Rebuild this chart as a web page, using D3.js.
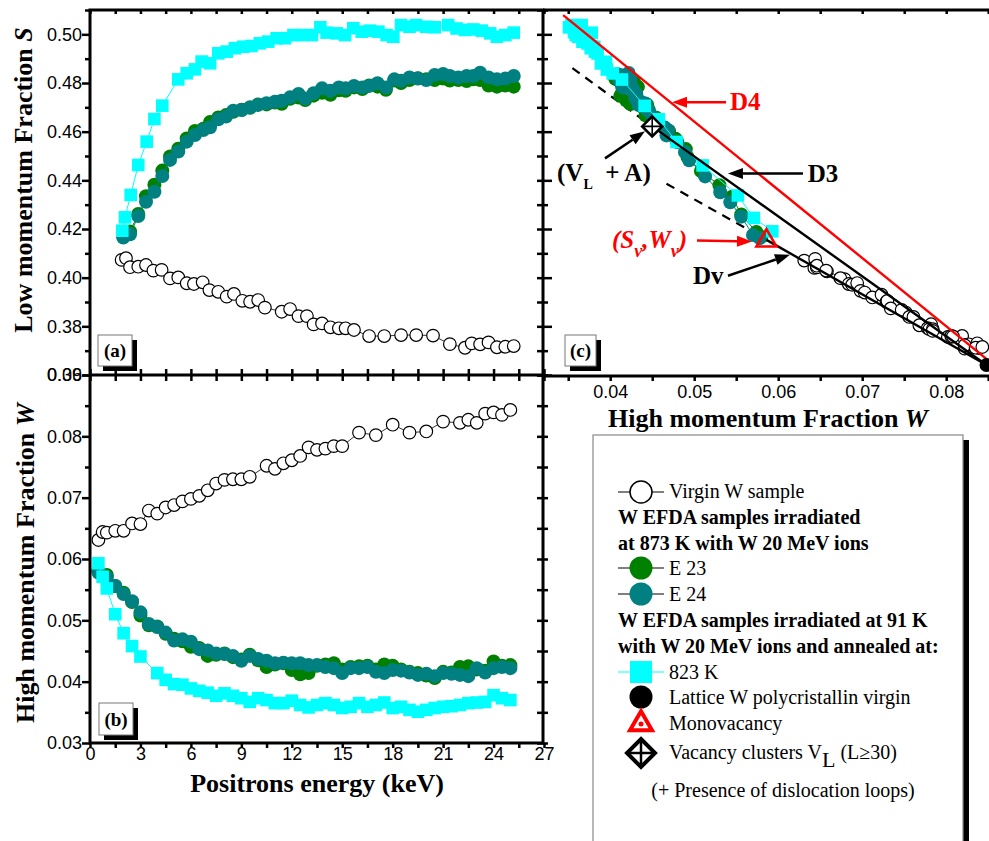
<!DOCTYPE html>
<html><head><meta charset="utf-8">
<script src="https://cdn.jsdelivr.net/npm/d3@7"></script>
<style>body{margin:0;background:#fff}svg{display:block}</style></head>
<body><svg id="chart" width="989" height="841"></svg>
<script>
// ---------------- DATA ----------------
// Panel (a): low momentum fraction S vs positron energy
const virginES = [1.88,2.14,2.38,2.87,3.33,3.77,4.26,4.76,5.25,5.75,6.18,6.7,7.1,7.63,8.13,8.56,9.06,9.52,10.0,10.4,11.4,11.9,12.4,12.9,13.3,13.8,14.3,14.8,15.2,15.7,16.6,17.5,18.5,19.4,20.4,21.4,22.3,22.7,23.2,23.7,24.2,24.7,25.2];
const virginS  = [0.4073,0.4080,0.4043,0.4045,0.4052,0.4029,0.4032,0.3997,0.4001,0.3977,0.3974,0.3981,0.3949,0.3942,0.3922,0.3933,0.3905,0.3901,0.3908,0.3877,0.3860,0.3871,0.3842,0.3842,0.3808,0.3812,0.3796,0.3792,0.3792,0.3785,0.3760,0.3760,0.3764,0.3764,0.3762,0.3727,0.3712,0.3730,0.3726,0.3734,0.3714,0.3716,0.3719];
const e2xES = [1.98,2.38,2.87,3.33,3.83,4.3,4.76,5.25,5.75,6.24,6.74,7.14,7.63,8.09,8.52,9.02,9.52,10.0,10.5,11.0,11.4,11.9,12.4,12.8,13.3,13.8,14.3,14.8,15.2,15.7,16.2,16.6,17.1,17.6,18.1,18.5,19.0,19.5,20.0,20.5,21.0,21.4,21.9,22.4,22.8,23.2,23.7,24.2,24.7,25.2];
const e23S = [0.4170,0.4190,0.4262,0.4335,0.4382,0.4440,0.4498,0.4530,0.4572,0.4603,0.4612,0.4640,0.4658,0.4668,0.4682,0.4690,0.4698,0.4712,0.4712,0.4720,0.4715,0.4735,0.4740,0.4730,0.4748,0.4760,0.4752,0.4770,0.4768,0.4782,0.4775,0.4790,0.4785,0.4772,0.4810,0.4800,0.4812,0.4820,0.4815,0.4812,0.4818,0.4810,0.4812,0.4808,0.4815,0.4812,0.4790,0.4785,0.4790,0.4785];
const e24S = [0.4165,0.4178,0.4253,0.4312,0.4353,0.4418,0.4484,0.4518,0.4559,0.4586,0.4607,0.4618,0.4651,0.4662,0.4686,0.4689,0.4700,0.4710,0.4717,0.4723,0.4727,0.4741,0.4755,0.4736,0.4758,0.4778,0.4768,0.4782,0.4778,0.4788,0.4782,0.4788,0.4799,0.4782,0.4815,0.4809,0.4823,0.4818,0.4812,0.4833,0.4837,0.4829,0.4823,0.4829,0.4829,0.4842,0.4823,0.4815,0.4818,0.4829];
const k823ES = [1.92,2.08,2.42,2.87,3.37,3.83,4.3,5.25,5.75,6.24,6.64,7.14,7.63,8.13,8.62,9.12,9.6,10.1,10.6,11.1,11.6,12.1,12.6,13.2,13.7,14.07,14.67,15.17,15.66,16.16,16.65,17.15,17.64,18.04,18.5,19.0,19.4,20.0,20.5,21.3,21.8,22.3,22.8,23.3,23.8,24.2,24.7,25.2];
const k823S  = [0.4193,0.4248,0.4340,0.4463,0.4559,0.4652,0.4707,0.4815,0.4840,0.4856,0.4888,0.4881,0.4922,0.4929,0.4943,0.4949,0.4952,0.4963,0.4970,0.4984,0.4984,0.4997,0.4997,0.4997,0.5029,0.5007,0.5004,0.4997,0.5025,0.5011,0.5015,0.5011,0.4997,0.4990,0.5038,0.5031,0.5038,0.5031,0.5029,0.5038,0.5024,0.5018,0.5020,0.5015,0.5004,0.4990,0.4997,0.5007];

// Panel (b): high momentum fraction W vs positron energy
const virginEW = [0.5,0.75,1.0,1.5,2.0,2.5,3.0,3.5,4.0,4.5,5.0,5.5,6.0,6.5,7.0,7.5,8.0,8.5,9.0,9.5,10.5,11.0,11.5,12.0,12.5,13.0,13.5,14.0,14.5,15.0,16.0,17.0,18.0,19.0,20.0,21.0,22.0,22.5,23.0,23.5,24.0,24.5,25.0];
const virginW  = [0.0631,0.0644,0.0643,0.0646,0.0646,0.0658,0.0657,0.0679,0.0674,0.0684,0.0688,0.0694,0.0698,0.0703,0.0712,0.0723,0.0729,0.0730,0.0730,0.0734,0.0752,0.0747,0.0756,0.0761,0.0768,0.0782,0.0778,0.0780,0.0784,0.0784,0.0806,0.0802,0.0819,0.0806,0.0808,0.0824,0.0822,0.0827,0.0822,0.0837,0.0839,0.0835,0.0843];
const e2xEW = [0.5,1.0,1.5,2.0,2.5,3.0,3.5,4.0,4.5,5.0,5.5,6.0,6.5,7.0,7.5,8.0,8.5,9.0,9.5,10.0,10.5,11.0,11.5,12.0,12.5,13.0,13.5,14.0,14.5,15.0,15.5,16.0,16.5,17.0,17.5,18.0,18.5,19.0,19.5,20.0,20.5,21.0,21.5,22.0,22.5,23.0,23.5,24.0,24.5,25.0];
const e23W = [0.0580,0.0574,0.0556,0.0545,0.0530,0.0508,0.0492,0.0490,0.0478,0.0470,0.0466,0.0457,0.0455,0.0442,0.0444,0.0446,0.0440,0.0436,0.0444,0.0435,0.0424,0.0428,0.0430,0.0419,0.0412,0.0414,0.0426,0.0428,0.0430,0.0420,0.0424,0.0425,0.0426,0.0420,0.0428,0.0426,0.0420,0.0416,0.0414,0.0410,0.0406,0.0416,0.0415,0.0424,0.0425,0.0420,0.0418,0.0433,0.0426,0.0427];
const e24W = [0.0578,0.0570,0.0556,0.0543,0.0531,0.0513,0.0494,0.0489,0.0480,0.0467,0.0469,0.0465,0.0453,0.0451,0.0446,0.0445,0.0442,0.0434,0.0442,0.0437,0.0434,0.0430,0.0431,0.0430,0.0430,0.0427,0.0427,0.0424,0.0422,0.0414,0.0422,0.0422,0.0424,0.0416,0.0414,0.0419,0.0418,0.0415,0.0411,0.0413,0.0409,0.0414,0.0413,0.0411,0.0409,0.0422,0.0415,0.0422,0.0424,0.0422];
const k823EW = [0.5,0.75,1.0,1.5,2.0,2.5,3.0,4.0,4.5,5.0,5.5,6.0,6.5,7.0,7.5,8.0,8.5,9.0,9.5,10.0,10.5,11.0,11.5,12.0,12.5,13.0,13.5,14.0,14.5,15.0,15.5,16.0,16.5,17.0,17.5,18.0,18.5,19.0,19.5,20.0,20.5,21.0,21.5,22.0,22.5,23.0,23.5,24.0,24.5,25.0];
const k823W  = [0.0593,0.0571,0.0552,0.0510,0.0479,0.0458,0.0441,0.0414,0.0403,0.0396,0.0395,0.0389,0.0385,0.0382,0.0377,0.0381,0.0377,0.0373,0.0367,0.0373,0.0370,0.0365,0.0365,0.0369,0.0362,0.0358,0.0362,0.0365,0.0362,0.0357,0.0359,0.0365,0.0359,0.0362,0.0366,0.0357,0.0359,0.0354,0.0351,0.0354,0.0357,0.0359,0.0360,0.0362,0.0365,0.0366,0.0367,0.0378,0.0373,0.0370];

// Panel (c): reference states (W, S)
const latticePt  = [0.0848, 0.3645];   // Lattice W polycristallin virgin
const monoVacPt  = [0.0586, 0.4158];   // Monovacancy (Sv, Wv)
const vacClustPt = [0.0450, 0.4623];   // Vacancy clusters VL
const lineD4     = [[0.0344, 0.5079], [0.0858, 0.3642]];
const dashD3Start = [0.0355, 0.4862];
const dashDvStart = [0.0467, 0.4388];

// Tick values
const energyTicks = [0,3,6,9,12,15,18,21,24,27];
const energyMinor = [1.5,4.5,7.5,10.5,13.5,16.5,19.5,22.5,25.5];
const sTicks = [0.36,0.38,0.40,0.42,0.44,0.46,0.48,0.50];
const sMinor = [0.37,0.39,0.41,0.43,0.45,0.47,0.49,0.51];
const wTicks = [0.03,0.04,0.05,0.06,0.07,0.08,0.09];
const wMinor = [0.035,0.045,0.055,0.065,0.075,0.085];
const wcTicks = [0.04,0.05,0.06,0.07,0.08];
const wcMinor = [0.035,0.045,0.055,0.065,0.075,0.085];

// ---------------- SETUP ----------------
const SERIF = '"Liberation Serif","Times New Roman",serif';
const SANS = '"Liberation Sans",Arial,sans-serif';
const svg = d3.select('#chart');

const A = {l:90, r:543, t:10, b:375};
const B = {l:90, r:543, t:375, b:743};
const C = {l:543, r:1005, t:10, b:376};

const xE = d3.scaleLinear().domain([0,27]).range([90,544]);
const yS = d3.scaleLinear().domain([0.36,0.51]).range([A.b, A.t]);
const yW = d3.scaleLinear().domain([0.03,0.09]).range([B.b, B.t]);
const xW = d3.scaleLinear().domain([0.032,0.087]).range([C.l, C.l + 0.055*8400]);
const ySc = d3.scaleLinear().domain([0.36,0.51]).range([C.b, C.t]);

const COL = {virgin:'#000', e23:'#008000', e24:'#008080', k823:'#00ffff'};

const defs = svg.append('defs');
[['clipA',A],['clipB',B],['clipC',C]].forEach(([id,p])=>{
  defs.append('clipPath').attr('id',id).append('rect')
    .attr('x',p.l).attr('y',p.t).attr('width',p.r-p.l).attr('height',p.b-p.t);
});

function zip(xs, ys){ const n=Math.min(xs.length, ys.length); const o=[]; for(let i=0;i<n;i++) o.push([xs[i],ys[i]]); return o; }

function drawSeries(g, pts, xs, ys, kind, color, size, lineColor, lineW){
  const line = d3.line().x(d=>xs(d[0])).y(d=>ys(d[1]));
  g.append('path').attr('d', line(pts)).attr('fill','none')
    .attr('stroke', lineColor).attr('stroke-width', lineW);
  if(kind==='circle'){
    g.selectAll(null).data(pts).join('circle')
      .attr('cx',d=>xs(d[0])).attr('cy',d=>ys(d[1])).attr('r',size)
      .attr('fill',color==='#000'?'#fff':color)
      .attr('stroke',color==='#000'?'#000':'none').attr('stroke-width',1.2);
  } else {
    g.selectAll(null).data(pts).join('rect')
      .attr('x',d=>xs(d[0])-size).attr('y',d=>ys(d[1])-size)
      .attr('width',2*size).attr('height',2*size).attr('fill',color);
  }
}

// ---------------- PANEL A ----------------
const gA = svg.append('g').attr('clip-path','url(#clipA)');
drawSeries(gA, zip(virginES, virginS), xE, yS, 'circle', COL.virgin, 6.3, '#000', 0.8);
drawSeries(gA, zip(e2xES, e23S), xE, yS, 'circle', COL.e23, 7, COL.e23, 1);
drawSeries(gA, zip(e2xES, e24S), xE, yS, 'circle', COL.e24, 7, COL.e24, 1);
drawSeries(gA, zip(k823ES, k823S), xE, yS, 'square', COL.k823, 6.3, COL.k823, 1);

// ---------------- PANEL B ----------------
const gB = svg.append('g').attr('clip-path','url(#clipB)');
drawSeries(gB, zip(virginEW, virginW), xE, yW, 'circle', COL.virgin, 6.3, '#000', 0.8);
drawSeries(gB, zip(e2xEW, e23W), xE, yW, 'circle', COL.e23, 7, COL.e23, 1);
drawSeries(gB, zip(e2xEW, e24W), xE, yW, 'circle', COL.e24, 7, COL.e24, 1);
drawSeries(gB, zip(k823EW, k823W), xE, yW, 'square', COL.k823, 6.3, COL.k823, 1);

// ---------------- PANEL C ----------------
const gC = svg.append('g').attr('clip-path','url(#clipC)');
const lineC = d3.line().x(d=>xW(d[0])).y(d=>ySc(d[1]));
// dashed extensions
gC.append('path').attr('d', lineC([dashD3Start, vacClustPt])).attr('stroke','#000')
  .attr('stroke-width',2.2).attr('stroke-dasharray','9,7').attr('fill','none');
gC.append('path').attr('d', lineC([dashDvStart, monoVacPt])).attr('stroke','#000')
  .attr('stroke-width',2.2).attr('stroke-dasharray','9,7').attr('fill','none');
drawSeries(gC, zip(virginW, virginS), xW, ySc, 'circle', COL.virgin, 6.3, '#000', 0.8);
drawSeries(gC, zip(e23W, e23S), xW, ySc, 'circle', COL.e23, 7, COL.e23, 1);
drawSeries(gC, zip(e24W, e24S), xW, ySc, 'circle', COL.e24, 7, COL.e24, 1);
drawSeries(gC, zip(k823W, k823S), xW, ySc, 'square', COL.k823, 6.3, COL.k823, 1);
// solid lines
gC.append('path').attr('d', lineC(lineD4)).attr('stroke','#ff0000').attr('stroke-width',2.4).attr('fill','none');
gC.append('path').attr('d', lineC([vacClustPt, latticePt])).attr('stroke','#000').attr('stroke-width',2.4).attr('fill','none');
gC.append('path').attr('d', lineC([monoVacPt, latticePt])).attr('stroke','#000').attr('stroke-width',2.4).attr('fill','none');
// reference points
gC.append('circle').attr('cx',xW(latticePt[0])).attr('cy',ySc(latticePt[1])).attr('r',7).attr('fill','#000');

function triangle(g, cx, cy, s, dot){
  const h = s*0.866;
  g.append('path').attr('d',`M${cx},${cy-h*0.62}L${cx+s/2},${cy+h*0.38}L${cx-s/2},${cy+h*0.38}Z`)
    .attr('fill','none').attr('stroke','#ff0000').attr('stroke-width',dot?4:2.6).attr('stroke-linejoin','miter');
  if(dot) g.append('circle').attr('cx',cx).attr('cy',cy+1).attr('r',2.5).attr('fill','#ff0000');
}
function diamond(g, cx, cy, s, sw){
  g.append('path').attr('d',`M${cx},${cy-s}L${cx+s},${cy}L${cx},${cy+s}L${cx-s},${cy}Z`)
    .attr('fill','#fff').attr('stroke','#000').attr('stroke-width',sw).attr('stroke-linejoin','miter');
  g.append('path').attr('d',`M${cx-s},${cy}L${cx+s},${cy}M${cx},${cy-s}L${cx},${cy+s}`)
    .attr('stroke','#000').attr('stroke-width',sw*0.6);
}
triangle(gC, xW(monoVacPt[0]), ySc(monoVacPt[1]), 20, false);
diamond(gC, xW(vacClustPt[0]), ySc(vacClustPt[1]), 10, 2.6);

// annotations (data coordinates)
function arrow(g, from, to, color){
  const x1=xW(from[0]), y1=ySc(from[1]), x2=xW(to[0]), y2=ySc(to[1]);
  const ang = Math.atan2(y2-y1, x2-x1), L=15, Wd=5.5;
  const bx = x2 - L*Math.cos(ang), by = y2 - L*Math.sin(ang);
  g.append('line').attr('x1',x1).attr('y1',y1).attr('x2',bx).attr('y2',by)
    .attr('stroke',color).attr('stroke-width',2.5);
  g.append('path').attr('d',`M${x2},${y2}L${bx+Wd*Math.sin(ang)},${by-Wd*Math.cos(ang)}L${bx-Wd*Math.sin(ang)},${by+Wd*Math.cos(ang)}Z`)
    .attr('fill',color);
}
const ann = svg.append('g');
arrow(ann, [0.05379,0.4722], [0.04736,0.4722], '#ff0000');
arrow(ann, [0.06295,0.4430], [0.05402,0.4430], '#000');
arrow(ann, [0.03938,0.4492], [0.04414,0.4603], '#000');
arrow(ann, [0.05033,0.4155], [0.05688,0.4151], '#ff0000');
arrow(ann, [0.05402,0.4011], [0.06140,0.4097], '#000');

function label(txt, pos, color, italic){
  return ann.append('text').attr('x',xW(pos[0])).attr('y',ySc(pos[1]))
    .attr('font-family',SERIF).attr('font-weight','bold').attr('font-size',25)
    .attr('font-style', italic?'italic':'normal').attr('fill',color).text(txt);
}
label('D4', [0.05426,0.4689], '#ff0000');
label('D3', [0.06352,0.4397], '#000');
label('Dv', [0.04986,0.3978], '#000');
const vl = label('', [0.03367,0.4401], '#000');
vl.append('tspan').text('(V');
vl.append('tspan').attr('dy',8).attr('font-size',14).text('L');
vl.append('tspan').attr('dy',-8).text('\u00a0 + A)');
const sv = label('', [0.04021,0.4126], '#ff0000', true);
sv.append('tspan').text('(S');
sv.append('tspan').attr('dy',9).attr('font-size',18).text('v');
sv.append('tspan').attr('dy',-9).text(',W');
sv.append('tspan').attr('dy',9).attr('font-size',18).text('v');
sv.append('tspan').attr('dy',-9).text(')');

// ---------------- AXES ----------------
function axis(orient, scale, vals, size, transform, labels, fmt, pad, sw){
  const gen = {left:d3.axisLeft, right:d3.axisRight, top:d3.axisTop, bottom:d3.axisBottom}[orient](scale)
    .tickValues(vals).tickSize(size).tickSizeOuter(0).tickPadding(pad||0)
    .tickFormat(labels ? fmt : () => '');
  const g = svg.append('g').attr('transform', transform).call(gen);
  g.select('.domain').remove();
  g.selectAll('line').attr('stroke','#000').attr('stroke-width', sw||2.5);
  g.selectAll('text').attr('font-family',SANS).attr('font-size',18).attr('fill','#000');
  return g;
}
const f2 = d3.format('.2f');
// Panel A
axis('left', yS, sTicks, 8, `translate(${A.l},0)`, true, f2, 0);
axis('left', yS, sMinor, 5, `translate(${A.l},0)`, false);
axis('top', xE, energyTicks.concat(energyMinor), -4, `translate(0,${A.t})`, false);
axis('bottom', xE, energyTicks.concat(energyMinor), 6, `translate(0,${A.b})`, false);
axis('top', xE, energyTicks.concat(energyMinor), 6, `translate(0,${A.b})`, false);
axis('left', yS, sTicks.concat(sMinor), 6, `translate(${A.r},0)`, false);
axis('right', yS, sTicks, 9, `translate(${A.r},0)`, false);
axis('right', yS, sMinor, 5, `translate(${A.r},0)`, false);
// Panel B
axis('left', yW, wTicks, 8, `translate(${B.l},0)`, true, f2, 0);
axis('left', yW, wMinor, 5, `translate(${B.l},0)`, false);
axis('bottom', xE, energyTicks, 5, `translate(0,${B.b})`, true, d3.format('d'), -1);
axis('bottom', xE, energyMinor, 5, `translate(0,${B.b})`, false);
axis('left', yW, wTicks.concat(wMinor), 6, `translate(${B.r},0)`, false);
axis('right', yW, wTicks.concat(wMinor), 5, `translate(${B.r},0)`, false);
// Panel C
axis('bottom', xW, wcTicks, 5, `translate(0,${C.b})`, true, f2, 4);
axis('bottom', xW, wcMinor, 5, `translate(0,${C.b})`, false);
axis('top', xW, wcTicks.concat(wcMinor), -4, `translate(0,${C.t})`, false);

// frames
const fr = svg.append('g').attr('fill','none').attr('stroke','#000').attr('stroke-width',3);
fr.append('rect').attr('x',A.l).attr('y',A.t).attr('width',A.r-A.l).attr('height',B.b-A.t);
fr.append('line').attr('x1',A.l).attr('x2',A.r).attr('y1',A.b).attr('y2',A.b);
fr.append('line').attr('x1',C.l).attr('x2',C.r).attr('y1',C.t).attr('y2',C.t);
fr.append('line').attr('x1',C.l).attr('x2',C.r).attr('y1',C.b).attr('y2',C.b);

// panel tags
function tag(x, y, w, h, txt){
  svg.append('rect').attr('x',x+5).attr('y',y+5).attr('width',w).attr('height',h).attr('fill','#000');
  svg.append('rect').attr('x',x).attr('y',y).attr('width',w).attr('height',h).attr('fill','#fff')
    .attr('stroke','#777').attr('stroke-width',1);
  svg.append('text').attr('x',x+w/2).attr('y',y+h/2+6.5).attr('text-anchor','middle')
    .attr('font-family',SERIF).attr('font-weight','bold').attr('font-size',19).text(txt);
}
tag(98, 335, 34, 31, '(a)');
tag(99, 703, 34, 32, '(b)');
tag(565, 335, 31, 31, '(c)');

// axis titles
function title(x, y, rot, parts){
  const t = svg.append('text').attr('transform',`translate(${x},${y}) rotate(${rot})`)
    .attr('text-anchor','middle').attr('font-family',SERIF).attr('font-weight','bold').attr('font-size',26);
  parts.forEach(p=>t.append('tspan').attr('font-style',p[1]?'italic':'normal').text(p[0]));
}
title(32, 180, -90, [['Low momentum Fraction ',0],['S',1]]);
title(34, 563, -90, [['High momentum Fraction ',0],['W',1]]);
title(317, 792, 0, [['Positrons energy (keV)',0]]);
title(768, 427, 0, [['High momentum Fraction ',0],['W',1]]);

// ---------------- LEGEND ----------------
const lg = svg.append('g');
lg.append('rect').attr('x',963).attr('y',440).attr('width',6).attr('height',420).attr('fill','#000');
lg.append('rect').attr('x',593).attr('y',435).attr('width',370).attr('height',420)
  .attr('fill','#fff').attr('stroke','#888').attr('stroke-width',1.2);
const LX = 641, TX = 669;
function ltext(x, y, txt, bold){
  return lg.append('text').attr('x',x).attr('y',y).attr('font-family',SERIF)
    .attr('font-size',20).attr('font-weight',bold?'bold':'normal').text(txt);
}
function lline(y, color){ lg.append('line').attr('x1',618).attr('x2',664).attr('y1',y).attr('y2',y).attr('stroke',color).attr('stroke-width',1.2); }
lline(492,'#000'); lg.append('circle').attr('cx',LX).attr('cy',492).attr('r',11).attr('fill','#fff').attr('stroke','#000').attr('stroke-width',1.5);
ltext(TX, 498, 'Virgin W sample');
ltext(618, 524, 'W EFDA samples irradiated', true);
ltext(618, 550, 'at 873 K with W 20 MeV ions', true);
lline(568,'#000'); lg.append('circle').attr('cx',LX).attr('cy',568).attr('r',11.5).attr('fill',COL.e23);
ltext(TX, 575, 'E 23');
lline(594,'#000'); lg.append('circle').attr('cx',LX).attr('cy',594).attr('r',11.5).attr('fill',COL.e24);
ltext(TX, 601, 'E 24');
ltext(618, 627, 'W EFDA samples irradiated at 91 K', true);
ltext(618, 653, 'with W 20 MeV ions and annealed at:', true);
lline(672, COL.k823); lg.append('rect').attr('x',LX-11).attr('y',661).attr('width',22).attr('height',22).attr('fill',COL.k823);
ltext(TX, 679, '823 K');
lg.append('circle').attr('cx',LX).attr('cy',697).attr('r',11.5).attr('fill','#000');
ltext(TX, 704, 'Lattice W polycristallin virgin');
triangle(lg, LX, 723, 22, true);
ltext(TX, 730, 'Monovacancy');
lg.append('path').attr('d',`M${LX},739L${LX+14},753L${LX},767L${LX-14},753Z`).attr('fill','#fff').attr('stroke','#000').attr('stroke-width',4);
lg.append('path').attr('d',`M${LX-12},753L${LX+12},753M${LX},741L${LX},765`).attr('stroke','#000').attr('stroke-width',2.5);
const vc = ltext(TX, 759, '');
vc.append('tspan').text('Vacancy clusters V');
vc.append('tspan').attr('dy',8).attr('font-size',22).text('L');
vc.append('tspan').attr('dy',-8).attr('dx',5).text('(L\u226530)');
ltext(783, 797, '(+ Presence of dislocation loops)').attr('text-anchor','middle');
</script></body></html>
